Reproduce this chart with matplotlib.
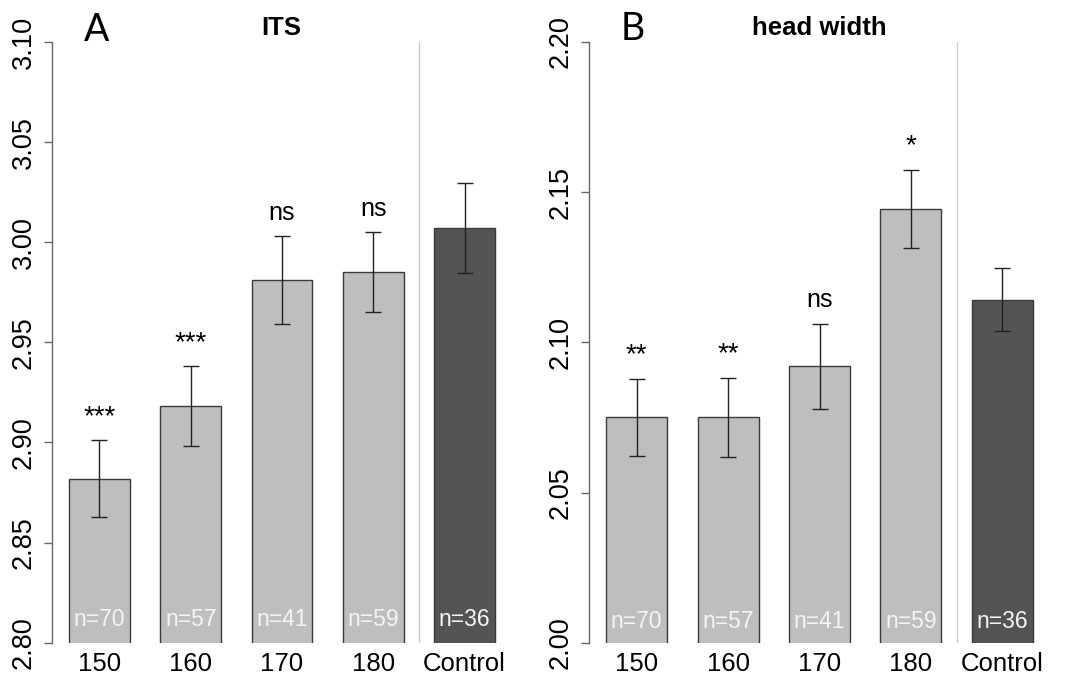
import matplotlib.pyplot as plt
import numpy as np

plt.rcParams['font.family'] = ['Liberation Sans', 'DejaVu Sans']

# Data
groups = ['150', '160', '170', '180', 'Control']
n_obs = [70, 57, 41, 59, 36]

its_mean = [2.882, 2.918, 2.981, 2.985, 3.007]
its_se = [0.019, 0.020, 0.022, 0.020, 0.0225]
its_sig = ['***', '***', 'ns', 'ns', '']

hw_mean = [2.075, 2.075, 2.092, 2.1445, 2.1142]
hw_se = [0.0128, 0.0132, 0.0142, 0.013, 0.0104]
hw_sig = ['**', '**', 'ns', '*', '']

W, H = 1075, 675
fig = plt.figure(figsize=(W / 100, H / 100), dpi=100)

bottom = 1 - 642.7 / H
height = (642.7 - 42) / H
ax1 = fig.add_axes([52 / W, bottom, 460 / W, height])
ax2 = fig.add_axes([589 / W, bottom, 461 / W, height])

x = np.array([1.0, 2.5, 4.0, 5.5, 7.0])
bar_cols = ['#bebebe'] * 4 + ['#545454']


def draw_panel(ax, means, ses, sigs, ylim, yticks, n_off):
    ax.bar(x, means, width=1.0, color=bar_cols, edgecolor='#3a3a3a',
           linewidth=1.0, zorder=2)
    ax.errorbar(x, means, yerr=ses, fmt='none', ecolor='#222222',
                elinewidth=1.0, capsize=6, capthick=1.0, zorder=3)
    # divider between treatments and control
    ax.axvline((x[3] + x[4]) / 2, color='#cccccc', linewidth=1.0, zorder=1)

    for xi, m, s, lab in zip(x, means, ses, sigs):
        if lab:
            size = 20 if '*' in lab else 18
            ax.annotate(lab, xy=(xi, m + s), xytext=(0, 17),
                        textcoords='offset points', ha='center', va='center',
                        fontsize=size)
    for xi, n in zip(x, n_obs):
        ax.annotate(f'n={n}', xy=(xi, ylim[0]), xytext=(0, n_off),
                    textcoords='offset points', ha='center', va='center',
                    fontsize=16.5, color='#f4f4f4', zorder=4)

    ax.set_xlim(0.22, 7.78)
    ax.set_ylim(*ylim)
    ax.set_yticks(yticks)
    ax.set_yticklabels([f'{t:.2f}' for t in yticks], rotation=90, va='center')
    ax.set_xticks(x)
    ax.set_xticklabels(groups)
    ax.tick_params(axis='x', length=0, pad=6.5, labelsize=18.5)
    ax.tick_params(axis='y', length=6, width=1, color='#666666', pad=5,
                   labelsize=19.5)
    for side in ['top', 'right', 'bottom']:
        ax.spines[side].set_visible(False)
    ax.spines['left'].set_color('#666666')
    ax.spines['left'].set_linewidth(1.0)


draw_panel(ax1, its_mean, its_se, its_sig, (2.80, 3.10),
           [2.80, 2.85, 2.90, 2.95, 3.00, 3.05, 3.10], 17)
draw_panel(ax2, hw_mean, hw_se, hw_sig, (2.00, 2.20),
           [2.00, 2.05, 2.10, 2.15, 2.20], 15)

fig.text(281 / W, 1 - 28 / H, 'ITS', ha='center', va='center',
         fontsize=18.5, fontweight='bold')
fig.text(819 / W, 1 - 28 / H, 'head width', ha='center', va='center',
         fontsize=18.5, fontweight='bold')
fig.text(84 / W, 1 - 41 / H, 'A', fontsize=27, va='baseline',
         family=['Lato', 'DejaVu Sans'])
fig.text(621 / W, 1 - 40 / H, 'B', fontsize=27, va='baseline',
         family=['Lato', 'DejaVu Sans'])

plt.savefig('out.png', dpi=100)
